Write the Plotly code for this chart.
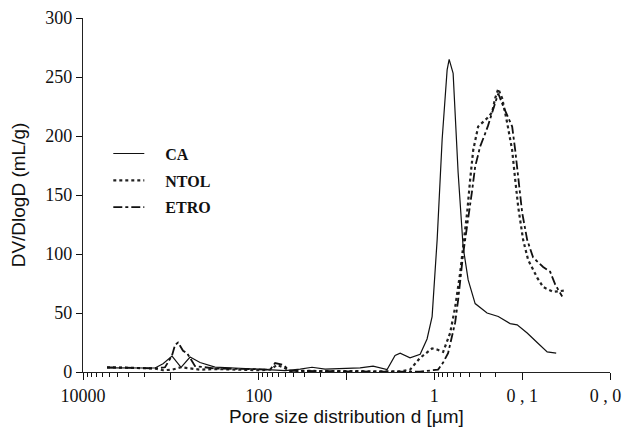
import plotly.graph_objects as go

# ---- data ----
ca_d = [5333, 2917, 1514, 1227, 969, 765, 604, 465, 314, 186, 96, 50, 33.7, 24.7, 17.5,
        10.4, 7.0, 4.98, 3.45, 2.80, 2.45, 1.89, 1.45, 1.21, 1.06, 0.929, 0.815, 0.715,
        0.678, 0.611, 0.536, 0.470, 0.412, 0.343, 0.251, 0.187, 0.137, 0.114, 0.0877,
        0.0675, 0.0519, 0.0410]
ca_v = [3.5, 3.5, 3.4, 7, 13.5, 4, 12.7, 8, 4.2, 3.4, 2.5, 1.2, 2.5, 4, 2.5,
        3, 3.5, 5, 2, 14, 16, 12, 15, 28, 47, 112, 197, 256,
        265, 253, 169, 106, 78, 58, 50, 47, 41, 40, 33,
        25, 17, 16]

ntol_d = [5333, 2917, 1514, 1227, 969, 765, 604, 465, 314, 186, 96, 74, 61.7, 52.8, 43.9,
          15.4, 4.14, 3.18, 2.45, 1.89, 1.45, 1.06, 0.929, 0.794, 0.661, 0.579, 0.508,
          0.470, 0.423, 0.391, 0.361, 0.317, 0.251, 0.220, 0.203, 0.187, 0.169, 0.148,
          0.130, 0.120, 0.111, 0.0975, 0.0855, 0.0675, 0.0577, 0.0444, 0.0324]
ntol_v = [4, 3.5, 3, 1.5, 2, 4, 3, 2, 2.5, 2, 1.5, 2, 6, 4, 1,
          0.8, 0.8, 0.5, 0.5, 2, 12, 20, 19, 17, 33, 55, 84,
          106, 135, 163, 188, 208, 215, 220, 232, 240, 232, 211,
          188, 163, 140, 112, 95, 80, 72, 68, 69]

etro_d = [5333, 2917, 1514, 1164, 969, 895, 828, 726, 654, 530, 314, 125, 74, 65, 52.8,
          43.9, 15.4, 4.14, 1.45, 0.906, 0.794, 0.697, 0.579, 0.536, 0.470, 0.423, 0.371,
          0.343, 0.301, 0.264, 0.244, 0.203, 0.187, 0.164, 0.148, 0.130, 0.120, 0.111,
          0.100, 0.0877, 0.075, 0.0577, 0.048, 0.042, 0.035]
etro_v = [4, 3.5, 3, 4, 14, 23, 25, 18, 16, 5, 3, 2.5, 2, 7.6, 6,
          1, 0.5, 0.3, 0.3, 2, 8, 16, 42, 61, 100, 123, 154,
          174, 191, 202, 209, 228, 236, 225, 218, 208, 188, 163,
          135, 112, 97, 89, 85, 74, 64]

series_names = ["CA", "NTOL", "ETRO"]

major_vals = [10000, 1000, 100, 10, 1, 0.1, 0.01]
major_text = ["10000", "", "100", "", "1", "0 , 1", "0 , 01"]
minor_vals = [9000, 8000, 7000, 6000, 5000, 4000, 3000, 2000,
              90, 80, 70, 60, 50, 40, 30, 20,
              0.9, 0.8, 0.7, 0.6, 0.5, 0.4, 0.3, 0.2]

y_ticks = [0, 50, 100, 150, 200, 250, 300]

# ---- figure ----
fig = go.Figure()
styles = [
    dict(color="#111111", width=1.2, dash="solid"),
    dict(color="#222222", width=2.2, dash="dot"),
    dict(color="#111111", width=1.8, dash="dashdot"),
]
for name, xd, yv, st, grp in zip(series_names, [ca_d, ntol_d, etro_d],
                                  [ca_v, ntol_v, etro_v], styles, ["a", "b", "c"]):
    fig.add_trace(go.Scatter(x=xd, y=yv, mode="lines",
                             name="<b>\u00a0\u00a0\u00a0\u00a0" + name + "</b>",
                             line=st, legendgroup=grp))

serif = "Liberation Serif, Times New Roman, serif"
sans = "Liberation Sans, Arial, sans-serif"

fig.update_layout(
    template="simple_white",
    width=622, height=433,
    margin=dict(l=83, r=12, t=18, b=61),
    paper_bgcolor="white", plot_bgcolor="white",
    showlegend=True,
    legend=dict(x=0.048, y=0.665, xanchor="left", yanchor="top",
                bgcolor="rgba(0,0,0,0)", traceorder="grouped", tracegroupgap=3,
                font=dict(family=serif, size=16, color="#111"),
                itemwidth=31),
)
fig.update_xaxes(
    type="log", range=[4, -2], automargin=False,
    tickmode="array", tickvals=major_vals, ticktext=major_text,
    ticks="outside", ticklen=7, tickwidth=1, tickcolor="#111",
    minor=dict(tickmode="array", tickvals=minor_vals, ticks="outside",
               ticklen=4, tickwidth=1, tickcolor="#111", showgrid=False),
    ticklabeloverflow="allow",
    showline=True, linecolor="#222", linewidth=1.2, mirror=False,
    showgrid=False, zeroline=False,
    tickfont=dict(family=serif, size=18, color="#111"),
    title=dict(text="Pore size distribution d [µm]", standoff=0,
               font=dict(family=sans, size=19, color="#111")),
)
fig.update_yaxes(
    range=[0, 300], tickmode="array", tickvals=y_ticks, automargin=False,
    ticks="outside", ticklen=6, tickwidth=1, tickcolor="#111",
    showline=True, linecolor="#222", linewidth=1.2, mirror=False,
    showgrid=False, zeroline=False,
    tickfont=dict(family=serif, size=18, color="#111"),
    title=dict(text="DV/DlogD (mL/g)", standoff=14,
               font=dict(family=sans, size=19, color="#111")),
)

fig.write_html("out.html", config={"displayModeBar": False},
               post_script="document.body.style.margin='0';")
